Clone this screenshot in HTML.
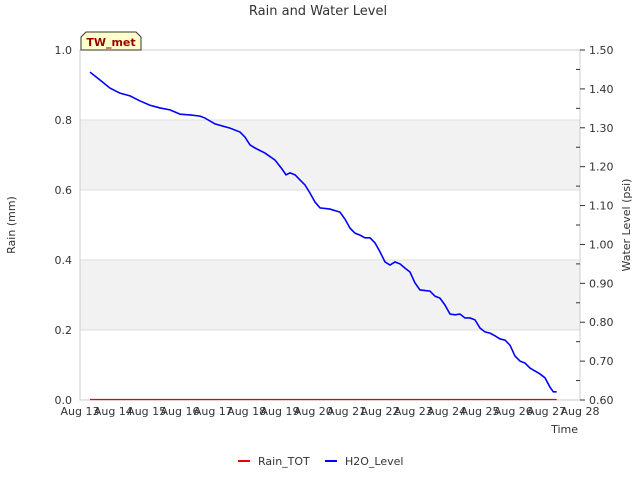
<!DOCTYPE html>
<html><head><meta charset="utf-8"><style>
body{margin:0;background:#fff;font-family:"Liberation Sans","DejaVu Sans",sans-serif}
svg text{font-family:"DejaVu Sans","Liberation Sans",sans-serif}
</style></head><body>
<svg id="chart" width="640" height="480" xmlns="http://www.w3.org/2000/svg">
<text x="318" y="15" text-anchor="middle" font-size="13" fill="#333">Rain and Water Level</text>
<g id="bands"></g>
<rect x="80" y="50" width="500" height="350" fill="none" stroke="#ccc"/>
<g id="axes" font-size="11" fill="#333"></g>
<g id="series"></g>
<text x="15" y="225" transform="rotate(-90 15 225)" text-anchor="middle" font-size="11" fill="#333">Rain (mm)</text>
<text x="630" y="225" transform="rotate(-90 630 225)" text-anchor="middle" font-size="11" fill="#333">Water Level (psi)</text>
<text x="578" y="433" text-anchor="end" font-size="11" fill="#333">Time</text>
<g>
<path d="M81,50 L81,37 L86,32 L136,32 L141,37 L141,50 Z" fill="#ffffcc" stroke="#333"/>
<text x="111" y="46" text-anchor="middle" font-size="11" font-weight="bold" fill="#990000">TW_met</text>
</g>
<g><line x1="238" y1="461" x2="250" y2="461" stroke="#e00" stroke-width="2"/><text x="258" y="465" font-size="11" fill="#333">Rain_TOT</text></g>
<g><line x1="325" y1="461" x2="337" y2="461" stroke="#00f" stroke-width="2"/><text x="345" y="465" font-size="11" fill="#333">H2O_Level</text></g>
</svg>
<script>
const xLabels=["Aug 13","Aug 14","Aug 15","Aug 16","Aug 17","Aug 18","Aug 19","Aug 20","Aug 21","Aug 22","Aug 23","Aug 24","Aug 25","Aug 26","Aug 27","Aug 28"];
const leftTicks=[0,0.2,0.4,0.6,0.8,1.0];
const rightTicks=[0.6,0.7,0.8,0.9,1.0,1.1,1.2,1.3,1.4,1.5];
const h2oDays=[0.3,0.6,0.9,1.2,1.5,1.8,2.1,2.4,2.7,3.0,3.3,3.6,3.75,4.05,4.5,4.8,4.95,5.1,5.25,5.55,5.85,6.06,6.18,6.3,6.45,6.6,6.75,6.9,7.05,7.2,7.5,7.8,7.95,8.1,8.25,8.4,8.55,8.7,8.85,9.0,9.15,9.3,9.45,9.6,9.75,9.9,10.05,10.2,10.5,10.65,10.8,10.95,11.1,11.25,11.4,11.55,11.7,11.85,12.0,12.15,12.3,12.45,12.6,12.75,12.9,13.05,13.2,13.35,13.5,13.8,13.95,14.1,14.2,14.3];
const h2oValues=[1.443,1.423,1.402,1.389,1.382,1.369,1.358,1.351,1.346,1.335,1.333,1.330,1.325,1.310,1.299,1.289,1.276,1.256,1.248,1.235,1.217,1.194,1.179,1.184,1.179,1.166,1.153,1.132,1.109,1.094,1.091,1.083,1.065,1.042,1.029,1.024,1.017,1.017,1.004,0.981,0.955,0.947,0.955,0.950,0.939,0.929,0.901,0.883,0.880,0.867,0.862,0.844,0.821,0.819,0.821,0.811,0.811,0.806,0.785,0.775,0.772,0.765,0.757,0.754,0.741,0.713,0.700,0.695,0.682,0.667,0.657,0.633,0.621,0.621];
const rainDays=[0.3,14.3];
const rainValues=[0,0];
const NS="http://www.w3.org/2000/svg";
const X=d=>80+d*500/15, YL=v=>400-v*350, YR=v=>400-(v-0.6)*350/0.9;
function mk(t,a,p){const e=document.createElementNS(NS,t);for(const k in a)e.setAttribute(k,a[k]);p.appendChild(e);return e;}
const bands=document.getElementById('bands'),axes=document.getElementById('axes'),series=document.getElementById('series');
[[0.2,0.4],[0.6,0.8]].forEach(b=>{const r=mk('rect',{x:80,y:YL(b[1]),width:500,height:YL(b[0])-YL(b[1]),fill:'#f2f2f2'},bands);

});
leftTicks.forEach(v=>{const l=mk('line',{x1:80,x2:580,y1:YL(v),y2:YL(v),stroke:'#ddd'},bands);


const t=mk('text',{x:72,y:YL(v)+4,'text-anchor':'end'},axes);t.textContent=v.toFixed(1);

});
rightTicks.forEach((v,i)=>{mk('line',{x1:580,x2:585,y1:YR(v),y2:YR(v),stroke:'#333'},axes);
if(i<rightTicks.length-1)mk('line',{x1:576,x2:580,y1:YR(v+0.05),y2:YR(v+0.05),stroke:'#333'},axes);
const t=mk('text',{x:589,y:YR(v)+4},axes);t.textContent=v.toFixed(2);

});
xLabels.forEach((s,i)=>{
const t=mk('text',{x:X(i),y:415,'text-anchor':'middle'},axes);t.textContent=s;

});
const rp=mk('polyline',{points:rainDays.map((d,i)=>X(d)+','+(YL(rainValues[i])-0.5)).join(' '),fill:'none',stroke:'#e00','stroke-width':1.2},series);


const hp=mk('polyline',{points:h2oDays.map((d,i)=>X(d)+','+YR(h2oValues[i])).join(' '),fill:'none',stroke:'#00f','stroke-width':1.6},series);


</script>
</body></html>
